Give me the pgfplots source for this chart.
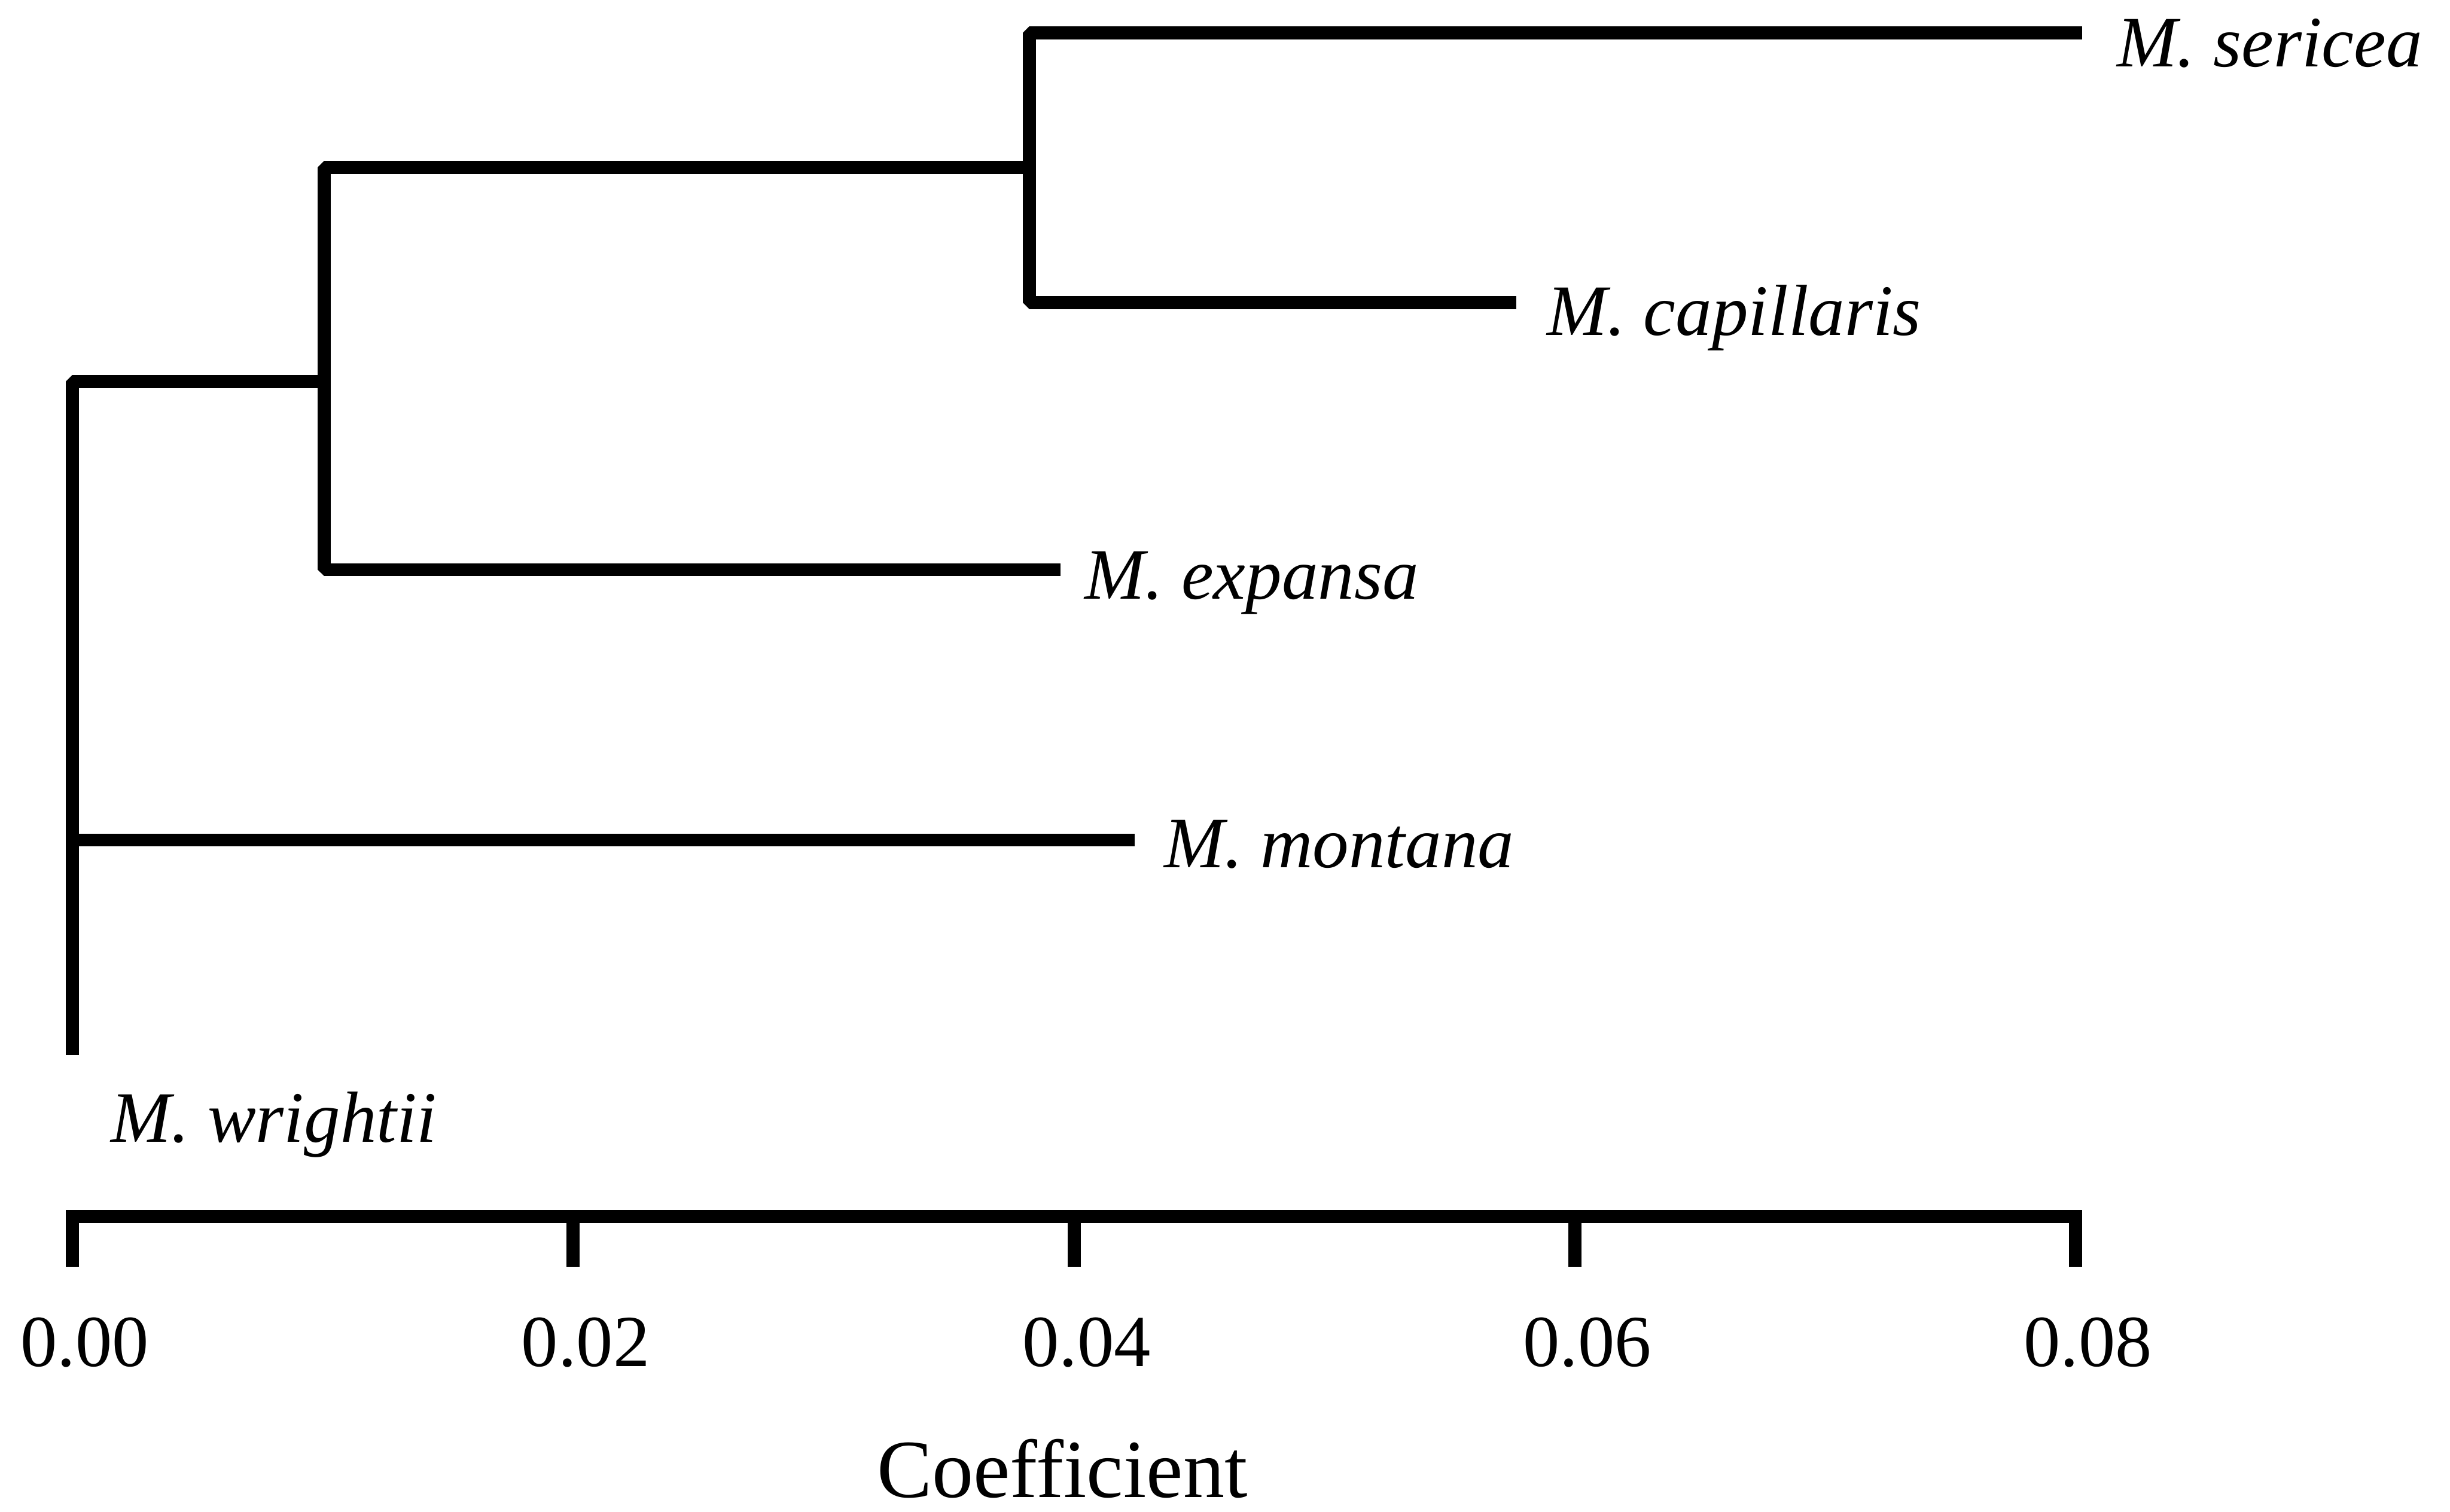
\documentclass[border=0pt]{standalone}
\usepackage{pgfplots}
\pgfplotsset{compat=1.18}
\usepackage{fontspec}
\setmainfont{Liberation Serif}
\begin{document}
\begin{tikzpicture}
\begin{axis}[
  scale only axis, width=321bp, height=190bp,
  xmin=0, xmax=0.08, ymin=0, ymax=760,
  axis x line=bottom, axis y line=none,
  axis line style={-, line width=2.1bp, line cap=rect, black},
  scaled x ticks=false,
  xtick={0,0.02,0.04,0.06,0.08},
  xticklabels={0.00,0.02,0.04,0.06,0.08},
  tick align=outside, major tick length=8bp,
  major tick style={black, line width=2.1bp},
  xticklabel style={font=\fontsize{11.75bp}{14bp}\selectfont, anchor=base, xshift=2bp, yshift=-16bp},
  clip=false,
  tree/.style={black, line width=2.1bp, line join=bevel, line cap=rect, mark=none},
]
% root and M. wrightii
\addplot[tree] coordinates {(0.01006,535.4) (0,535.4) (0,108)};
% M. montana
\addplot[tree] coordinates {(0,241.5) (0.04215,241.5)};
% node 1 -> M. expansa
\addplot[tree] coordinates {(0.03822,672.8) (0.01006,672.8) (0.01006,414.8) (0.0392,414.8)};
% node 2 -> M. sericea, M. capillaris
\addplot[tree] coordinates {(0.0800,759) (0.03822,759) (0.03822,586) (0.05741,586)};

\begin{scope}[every node/.style={font=\fontsize{11.6bp}{14bp}\selectfont\itshape, anchor=base west, inner sep=0pt}]
\node at (axis cs:0.0816,737.4) {M. sericea};
\node at (axis cs:0.05885,565) {M. capillaris};
\node at (axis cs:0.04039,396.1) {M. expansa};
\node at (axis cs:0.04355,224) {M. montana};
\node at (axis cs:0.0015,48) {M. wrightii};
\end{scope}
\node[anchor=base, inner sep=0pt, font=\fontsize{13.25bp}{16bp}\selectfont] at (axis cs:0.03953,-180) {Coefficient};

\coordinate (bl) at (axis cs:-0.002741,-189);
\coordinate (tr) at (axis cs:0.094953,780);
\end{axis}
\path (bl) rectangle (tr);
\end{tikzpicture}
\end{document}
